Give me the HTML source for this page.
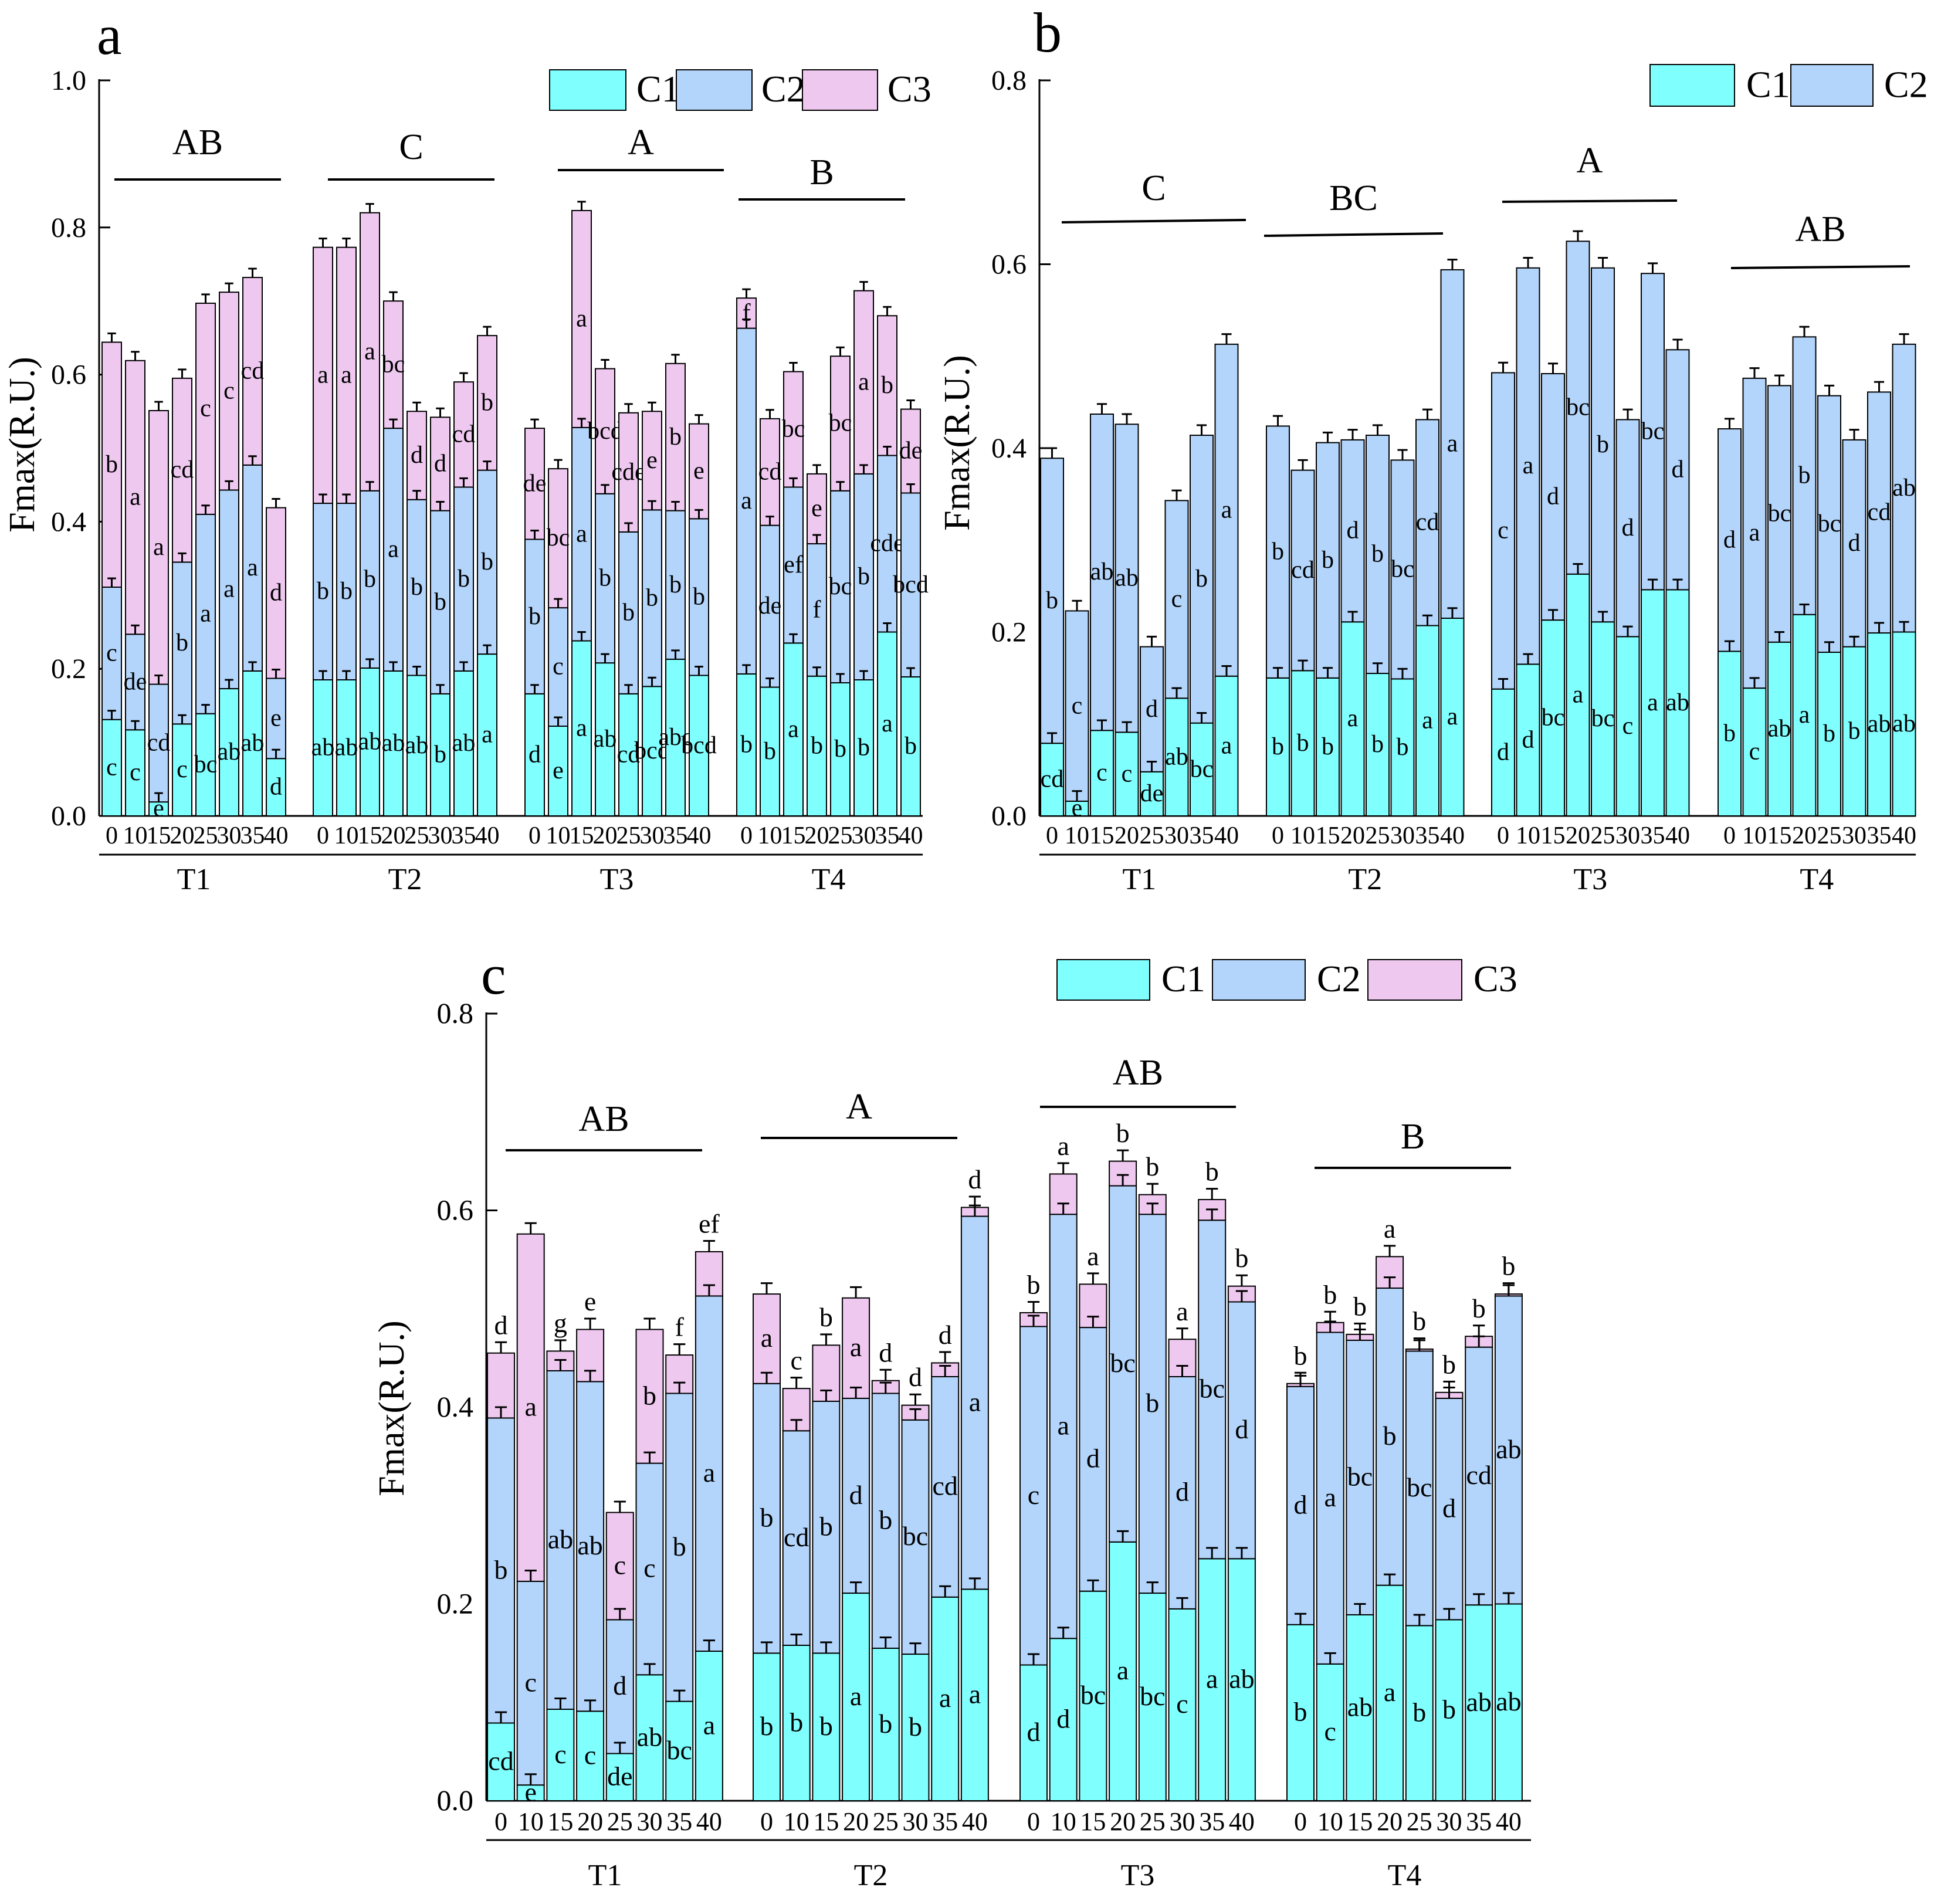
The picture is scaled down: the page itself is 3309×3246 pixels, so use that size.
<!DOCTYPE html>
<html><head><meta charset="utf-8"><title>Fmax stacked bars</title>
<style>
html,body{margin:0;padding:0;background:#fff;}
svg{display:block;}
svg text{font-family:"Liberation Serif","Times New Roman",serif;}
</style></head>
<body>
<svg id="chart" xmlns="http://www.w3.org/2000/svg" width="3309" height="3246" viewBox="0 0 3309 3246" font-family="Liberation Serif, serif">
<rect x="0" y="0" width="3309" height="3246" fill="#fff"/>
</svg>
<script>
// ---------- shared categories ----------
const groups = ["T1", "T2", "T3", "T4"];
const temps = ["0", "10", "15", "20", "25", "30", "35", "40"];

// ---------- panel a values (component heights) ----------
const aC1 = [0.131,0.117,0.019,0.125,0.139,0.173,0.197,0.078, 0.185,0.185,0.201,0.197,0.191,0.166,0.197,0.220, 0.166,0.122,0.238,0.208,0.166,0.176,0.213,0.191, 0.193,0.175,0.235,0.190,0.181,0.185,0.250,0.189];
const aC2 = [0.180,0.130,0.160,0.220,0.271,0.270,0.280,0.109, 0.240,0.240,0.241,0.330,0.239,0.249,0.250,0.250, 0.210,0.161,0.290,0.230,0.220,0.240,0.202,0.213, 0.470,0.220,0.212,0.180,0.261,0.280,0.240,0.250];
const aC3 = [0.333,0.372,0.372,0.250,0.287,0.269,0.255,0.232, 0.348,0.348,0.378,0.173,0.120,0.127,0.143,0.183, 0.151,0.189,0.295,0.170,0.162,0.134,0.200,0.129, 0.041,0.145,0.157,0.095,0.183,0.249,0.190,0.114];
const aL1 = ["c","c","e","c","bc","ab","ab","d", "ab","ab","ab","ab","ab","b","ab","a", "d","e","a","ab","cd","bcd","abc","bcd", "b","b","a","b","b","b","a","b"];
const aL2 = ["c","de","cd","b","a","a","a","e", "b","b","b","a","b","b","b","b", "b","c","a","b","b","b","b","b", "a","de","ef","f","bc","b","cde","bcd"];
const aL3 = ["b","a","a","cd","c","c","cd","d", "a","a","a","bc","d","d","cd","b", "de","bc","a","bcd","cde","e","b","e", "f","cd","bc","e","bc","a","b","de"];
const aGroupLetters = ["AB", "C", "A", "B"];
const aTicks = [0, 0.2, 0.4, 0.6, 0.8, 1.0];

// ---------- panel b values ----------
const bC1 = [0.079,0.016,0.093,0.091,0.048,0.128,0.101,0.152, 0.150,0.158,0.150,0.211,0.155,0.149,0.207,0.215, 0.138,0.165,0.213,0.263,0.211,0.195,0.246,0.246, 0.179,0.139,0.189,0.219,0.178,0.184,0.199,0.200];
const bC2 = [0.310,0.207,0.344,0.335,0.136,0.215,0.313,0.361, 0.274,0.218,0.256,0.198,0.259,0.238,0.224,0.379, 0.344,0.431,0.268,0.362,0.385,0.236,0.344,0.261, 0.242,0.337,0.279,0.302,0.279,0.225,0.262,0.313];
const bL1 = ["cd","e","c","c","de","ab","bc","a", "b","b","b","a","b","b","a","a", "d","d","bc","a","bc","c","a","ab", "b","c","ab","a","b","b","ab","ab"];
const bL2 = ["b","c","ab","ab","d","c","b","a", "b","cd","b","d","b","bc","cd","a", "c","a","d","bc","b","d","bc","d", "d","a","bc","b","bc","d","cd","ab"];
const bGroupLetters = ["C", "BC", "A", "AB"];
const bTicks = [0, 0.2, 0.4, 0.6, 0.8];

// ---------- panel c values ----------
const cC1 = [0.079,0.016,0.093,0.091,0.048,0.128,0.101,0.152, 0.150,0.158,0.150,0.211,0.155,0.149,0.207,0.215, 0.138,0.165,0.213,0.263,0.211,0.195,0.246,0.246, 0.179,0.139,0.189,0.219,0.178,0.184,0.199,0.200];
const cC2 = [0.310,0.207,0.344,0.335,0.136,0.215,0.313,0.361, 0.274,0.218,0.256,0.198,0.259,0.238,0.224,0.379, 0.344,0.431,0.268,0.362,0.385,0.236,0.344,0.261, 0.242,0.337,0.279,0.302,0.279,0.225,0.262,0.313];
const cC3 = [0.066,0.353,0.020,0.053,0.109,0.136,0.039,0.045, 0.091,0.043,0.057,0.102,0.013,0.015,0.014,0.009, 0.014,0.041,0.044,0.025,0.020,0.038,0.021,0.016, 0.003,0.010,0.006,0.032,0.002,0.006,0.011,0.002];
const cL1 = ["cd","e","c","c","de","ab","bc","a", "b","b","b","a","b","b","a","a", "d","d","bc","a","bc","c","a","ab", "b","c","ab","a","b","b","ab","ab"];
const cL2 = ["b","c","ab","ab","d","c","b","a", "b","cd","b","d","b","bc","cd","a", "c","a","d","bc","b","d","bc","d", "d","a","bc","b","bc","d","cd","ab"];
const cL3 = ["d","a","g","e","c","b","f","ef", "a","c","b","a","d","d","d","d", "b","a","a","b","b","a","b","b", "b","b","b","a","b","b","b","b"];
const cGroupLetters = ["AB", "A", "AB", "B"];
const cTicks = [0, 0.2, 0.4, 0.6, 0.8];
const errA = 0.012, errB = 0.011, errC = 0.011;

const COLORS = ["#80FFFF", "#B3D5FB", "#EFC8F0"];
const NS = "http://www.w3.org/2000/svg";
const svg = document.getElementById("chart");

function mk(tag, attrs, parent, text) {
  const e = document.createElementNS(NS, tag);
  for (const k in attrs) e.setAttribute(k, attrs[k]);
  if (tag === "text") e.setAttribute("font-family", "Liberation Serif, Times New Roman, serif");
  if (text !== undefined) e.textContent = text;
  (parent || svg).appendChild(e);
  return e;
}

function drawPanel(p) {
  const g = mk("g", {});
  
  
  const yS = v => p.y0 - v / p.vmax * (p.y0 - p.yTop);
  const ax = mk("line", {x1:p.axX, y1:p.yTop - 2, x2:p.axX, y2:p.y0, stroke:"#000", "stroke-width":3}, g);
  
  
  const bx = mk("line", {x1:p.axX, y1:p.y0, x2:p.axEnd, y2:p.y0, stroke:"#000", "stroke-width":3}, g);
  
  
  p.ticks.forEach(t => {
    const y = yS(t);
    const tl = mk("line", {x1:p.axX, y1:y, x2:p.axX + 19, y2:y, stroke:"#000", "stroke-width":3}, g);
    
    
    const tx = mk("text", {x:p.axX - 22, y:y + 16, "text-anchor":"end", "font-size":p.tickFs}, g, t.toFixed(1));
    
    
  });
  const yl = mk("text", {x:p.ylabX, y:p.ylabY, "text-anchor":"middle", "font-size":p.ylabFs, transform:`rotate(-90 ${p.ylabX} ${p.ylabY})`}, g, "Fmax(R.U.)");
  
  
  const pl = mk("text", {x:p.labX, y:p.labY, "font-size":p.labFs}, g, p.id);
  
  

  const series = p.series;
  groups.forEach((gn, gi) => {
    temps.forEach((tn, ti) => {
      const idx = gi * 8 + ti;
      const x = p.gStart[gi] + ti * p.pitch;
      let base = 0;
      series.forEach((s, si) => {
        const v = s.vals[idx];
        const yTop = yS(base + v), yBot = yS(base);
        const r = mk("rect", {x:x, y:yTop, width:p.w, height:Math.max(0, yBot - yTop), fill:COLORS[si], stroke:"#000", "stroke-width":2}, g);
        
        
        base += v;
      });
      base = 0;
      series.forEach((s, si) => {
        const v = s.vals[idx];
        const yTop = yS(base + v), yBot = yS(base);
        const cx = x + p.w / 2;
        const ye = yS(base + v + p.err);
        const el = mk("path", {d:`M${cx} ${yTop}V${ye}M${cx - p.w*0.22} ${ye}H${cx + p.w*0.22}`, stroke:"#000", "stroke-width":3, fill:"none"}, g);
        
        
        let ly = (yTop + yBot) / 2 + p.letFs * 0.3;
        if (s.above && v < 0.08) ly = ye - 14;
        const lt = mk("text", {x:cx, y:ly, "text-anchor":"middle", "font-size":p.letFs}, g, s.labels[idx]);
        
        
        base += v;
      });
      const xt = mk("text", {x:x + p.w / 2, y:p.xtY, "text-anchor":"middle", "font-size":p.xtFs}, g, tn);
      
      
    });
    const gc = p.gStart[gi] + (7 * p.pitch + p.w) / 2;
    const gl = mk("text", {x:gc, y:p.glY, "text-anchor":"middle", "font-size":p.glFs}, g, gn);
    
    
    const ln = p.sigLines[gi];
    const sl = mk("line", {x1:ln[0], y1:ln[2], x2:ln[1], y2:ln[3], stroke:"#000", "stroke-width":4}, g);
    
    
    const st = mk("text", {x:(ln[0] + ln[1]) / 2, y:ln[4], "text-anchor":"middle", "font-size":p.sigFs}, g, p.groupLetters[gi]);
    
    
  });
  const ul = mk("line", {x1:p.axX, y1:p.ulY, x2:p.axEnd, y2:p.ulY, stroke:"#000", "stroke-width":3}, g);
  
  
  p.legend.forEach((L, li) => {
    const lr = mk("rect", {x:L[0], y:p.legY, width:L[1] - L[0], height:p.legH, fill:COLORS[li], stroke:"#000", "stroke-width":2}, g);
    
    
    const lt = mk("text", {x:L[2], y:p.legY + p.legH * 0.78, "font-size":p.legFs}, g, "C" + (li + 1));
    
    
  });
}

drawPanel({id:"a", axX:169, axEnd:1573, y0:1391, yTop:137, vmax:1.0, ticks:aTicks,
  gStart:[174, 534, 895, 1256], pitch:40, w:33, err:errA,
  series:[{vals:aC1, labels:aL1}, {vals:aC2, labels:aL2}, {vals:aC3, labels:aL3}],
  groupLetters:aGroupLetters,
  sigLines:[[195,479,306,306,263],[559,843,306,306,271],[951,1234,290,290,263],[1259,1543,340,340,314]],
  tickFs:48, ylabX:58, ylabY:758, ylabFs:62, labX:165, labY:92, labFs:96,
  letFs:42, xtY:1438, xtFs:42, glY:1516, glFs:52, sigFs:62, ulY:1457,
  legend:[[937,1067,1085],[1153,1282,1298],[1368,1496,1513]], legY:119, legH:69, legFs:64});

drawPanel({id:"b", axX:1772, axEnd:3266, y0:1391, yTop:137, vmax:0.8, ticks:bTicks,
  gStart:[1774, 2159, 2543, 2929], pitch:42.5, w:39, err:errB,
  series:[{vals:bC1, labels:bL1}, {vals:bC2, labels:bL2}],
  groupLetters:bGroupLetters,
  sigLines:[[1810,2124,379,375,341],[2155,2460,402,398,358],[2561,2859,344,342,294],[2951,3256,457,454,411]],
  tickFs:48, ylabX:1652, ylabY:755, ylabFs:62, labX:1762, labY:88, labFs:96,
  letFs:42, xtY:1438, xtFs:42, glY:1516, glFs:52, sigFs:62, ulY:1457,
  legend:[[2813,2957,2977],[3053,3193,3212]], legY:110, legH:71, legFs:64});

drawPanel({id:"c", axX:829, axEnd:2610, y0:3070, yTop:1728, vmax:0.8, ticks:cTicks,
  gStart:[831, 1284, 1739, 2194], pitch:50.7, w:46, err:errC,
  series:[{vals:cC1, labels:cL1}, {vals:cC2, labels:cL2}, {vals:cC3, labels:cL3, above:true}],
  groupLetters:cGroupLetters,
  sigLines:[[862,1197,1961,1961,1928],[1297,1632,1940,1940,1907],[1773,2107,1887,1887,1849],[2241,2576,1991,1991,1958]],
  tickFs:50, ylabX:688, ylabY:2401, ylabFs:62, labX:820, labY:1694, labFs:96,
  letFs:46, xtY:3120, xtFs:44, glY:3214, glFs:52, sigFs:62, ulY:3137,
  legend:[[1802,1960,1980],[2067,2225,2245],[2332,2492,2512]], legY:1636, legH:69, legFs:64});
</script>
</body></html>
